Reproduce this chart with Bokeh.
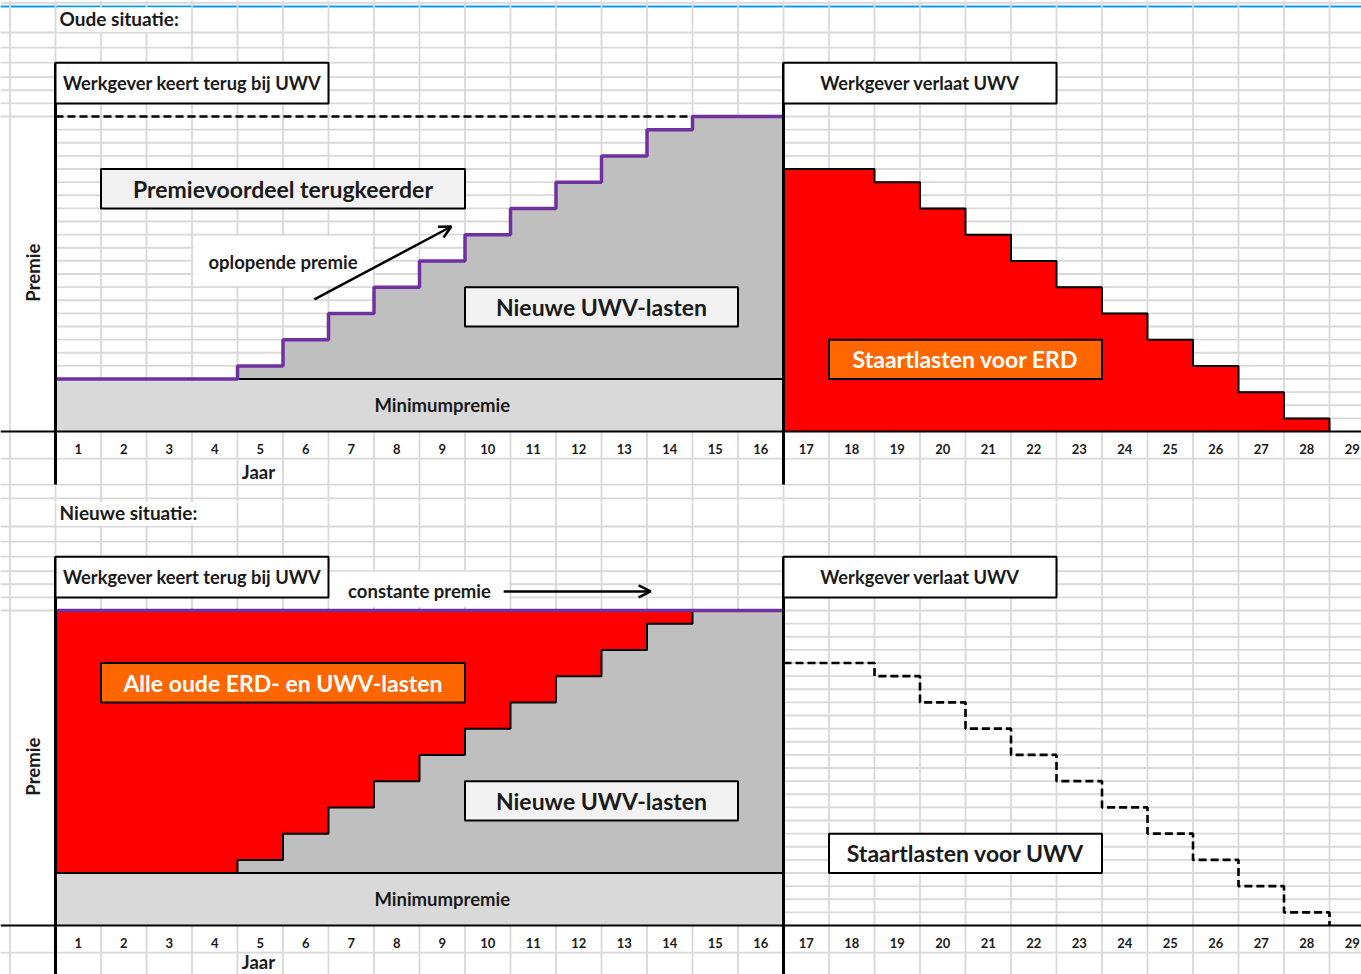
from bokeh.plotting import figure
from bokeh.layouts import column
from bokeh.models import ColumnDataSource, Range1d, Arrow, OpenHead
from bokeh.core.properties import value
from bokeh.embed import file_html
from bokeh.resources import INLINE

# ---------------- data (premie in rij-eenheden) ----------------
jaren = list(range(1, 30))
jaar_labels = [str(j) for j in jaren]
jaren_uwv = list(range(1, 17))
premie_oud = [4, 4, 4, 4, 5, 7, 9, 11, 13, 15, 17, 19, 21, 23, 24, 24]
minimumpremie = 4
constante_premie = 24
jaren_staart = list(range(17, 29))
staartlasten = [20, 20, 19, 17, 15, 13, 11, 9, 7, 5, 3, 1]

# ---------------- style ----------------
FONT = value("Lato")
GRID = "#d9d9d9"
LIGHT = "#d9d9d9"
DARK = "#bfbfbf"
RED = "#ff0000"
ORANGE = "#ff6600"
BOXFILL = "#f2f2f2"
PURPLE = "#7030a0"
TXT = "#1a1a1a"
BLUE = "#0a9bff"

X0, X1 = (0 - 55) / 45.5, (1361 - 55) / 45.5
ROW = 13.125
upper_rows = [24, 25, 26, 27, 28.1, 29.25, 30.4, 32.65]
lower_rows = [-2.06, -4.04, -5.1]


def grid(p, ybot, ytop):
    xs = list(range(-1, 29))
    inner = list(range(1, 24))
    p.segment(x0=[0] * len(inner), y0=inner, x1=[X1] * len(inner), y1=inner,
              line_color=GRID, line_width=1.8)
    outer = upper_rows + lower_rows
    p.segment(x0=[X0] * len(outer), y0=outer, x1=[X1] * len(outer), y1=outer,
              line_color=GRID, line_width=1.8)
    p.segment(x0=[X0], y0=[32.38], x1=[X1], y1=[32.38], line_color=BLUE, line_width=2.2)
    p.segment(x0=xs, y0=[ybot] * len(xs), x1=xs, y1=[ytop] * len(xs),
              line_color=GRID, line_width=1.8)


def label(p, x, y, txt, size, color=TXT, align="center", angle=0):
    p.text(x=[x], y=[y], text=[txt], text_font=FONT, text_font_style="bold",
           text_font_size=f"{size}px", text_color=color, text_align=align,
           text_baseline="middle", angle=angle)


def box(p, l, r, b, t, txt, size, fill, color=TXT):
    p.quad(left=[l], right=[r], bottom=[b], top=[t], fill_color=fill,
           line_color="black", line_width=2)
    label(p, (l + r) / 2, (b + t) / 2, txt, size, color)


def make_panel(top):
    if top:
        height, ybot, ytop = 502, (431 - 502) / ROW, 431 / ROW
    else:
        height, ybot, ytop = 472, (925 - 974) / ROW, (925 - 502) / ROW
    p = figure(width=1361, height=height, x_range=Range1d(X0, X1),
               y_range=Range1d(ybot, ytop), x_axis_type=None, y_axis_type=None,
               toolbar_location=None, output_backend="svg", min_border=0)
    p.outline_line_color = None
    p.background_fill_color = "white"
    grid(p, ybot, ytop)

    # title cover + title
    tw = 3 if top else 4
    p.quad(left=[0.03], right=[tw - 0.03], bottom=[30.45], top=[32.3],
           fill_color="white", line_color=None)
    label(p, 0.09, 31.45, "Oude situatie:" if top else "Nieuwe situatie:", 19, align="left")

    left = [j - 1 for j in jaren_uwv]
    right = jaren_uwv
    # minimum premium band
    p.quad(left=[0], right=[16], bottom=[0], top=[minimumpremie],
           fill_color=LIGHT, line_color=None)
    src = ColumnDataSource(dict(l=left, r=right, p=premie_oud,
                                m=[minimumpremie] * 16, c=[constante_premie] * 16))
    p.quad(left="l", right="r", bottom="m", top="p", source=src,
           fill_color=DARK, line_color=DARK, line_width=1)
    if not top:
        p.quad(left="l", right="r", bottom="p", top="c", source=src,
               fill_color=RED, line_color=RED, line_width=1)

    tsrc = ColumnDataSource(dict(l=[j - 1 for j in jaren_staart], r=jaren_staart,
                                 t=staartlasten, b=[0] * len(jaren_staart)))
    sx = [16] + jaren_staart
    sy = staartlasten + [0]
    if top:
        p.quad(left="l", right="r", bottom="b", top="t", source=tsrc,
               fill_color=RED, line_color=RED, line_width=1)
        p.step(x=sx, y=sy, mode="after", line_color="black", line_width=2)
    else:
        p.step(x=sx, y=sy, mode="after", line_color="black", line_width=2.6,
               line_dash="8 4")

    # min band top line
    p.segment(x0=[0], y0=[minimumpremie], x1=[16], y1=[minimumpremie],
              line_color="black", line_width=2)
    stx = [0] + jaren_uwv
    sty = premie_oud + [premie_oud[-1]]
    if top:
        p.segment(x0=[0], y0=[constante_premie], x1=[16], y1=[constante_premie],
                  line_color="black", line_width=2.6, line_dash="8 4")
        p.step(x=stx, y=sty, mode="after", line_color=PURPLE, line_width=3.5)
    else:
        p.step(x=stx, y=sty, mode="after", line_color="black", line_width=2)
        p.segment(x0=[0], y0=[constante_premie], x1=[16], y1=[constante_premie],
                  line_color=PURPLE, line_width=3.5)

    label(p, 8.5, 2.0, "Minimumpremie", 18.5)

    # frame lines
    vb = -4.04 if top else ybot
    p.segment(x0=[0, 16], y0=[vb, vb], x1=[0, 16], y1=[28.1, 28.1],
              line_color="black", line_width=3)
    p.segment(x0=[X0], y0=[0], x1=[X1], y1=[0], line_color="black", line_width=2)

    # boxes
    box(p, 0, 6, 25, 28.1, "Werkgever keert terug bij UWV", 18.3, "white")
    box(p, 16, 22, 25, 28.1, "Werkgever verlaat UWV", 18.3, "white")
    box(p, 9, 15, 8, 11, "Nieuwe UWV-lasten", 23, BOXFILL)
    if top:
        box(p, 1, 9, 17, 20, "Premievoordeel terugkeerder", 23, BOXFILL)
        box(p, 17, 23, 4, 7, "Staartlasten voor ERD", 23, ORANGE, "white")
        p.quad(left=[3.03], right=[6.97], bottom=[11.1], top=[14.9],
               fill_color="white", line_color=None)
        label(p, 5.0, 12.95, "oplopende premie", 18.5)
        p.add_layout(Arrow(end=OpenHead(size=12, line_width=2.5, line_color="black"),
                           x_start=5.69, y_start=10.06, x_end=8.70, y_end=15.62,
                           line_width=2.5, line_color="black"))
    else:
        box(p, 1, 9, 17, 20, "Alle oude ERD- en UWV-lasten", 23, ORANGE, "white")
        box(p, 17, 23, 4, 7, "Staartlasten voor UWV", 23, "white")
        p.quad(left=[6.03], right=[9.97], bottom=[24.3], top=[26.95],
               fill_color="white", line_color=None)
        label(p, 8.0, 25.45, "constante premie", 18.5)
        p.add_layout(Arrow(end=OpenHead(size=12, line_width=2.5, line_color="black"),
                           x_start=9.85, y_start=25.45, x_end=13.08, y_end=25.45,
                           line_width=2.5, line_color="black"))

    # Premie + year labels + Jaar
    label(p, -0.5, 12.1, "Premie", 18.5, angle=1.5708)
    p.text(x=[j - 0.5 for j in jaren], y=[-1.35] * len(jaren), text=jaar_labels,
           text_font=FONT, text_font_style="bold", text_font_size="13px",
           text_color=TXT, text_align="center", text_baseline="middle")
    label(p, 4.46, -3.05 if top else -2.78, "Jaar", 18.5)
    return p


layout = column(make_panel(True), make_panel(False), spacing=0)
open("out.html", "w").write(file_html(layout, INLINE))
